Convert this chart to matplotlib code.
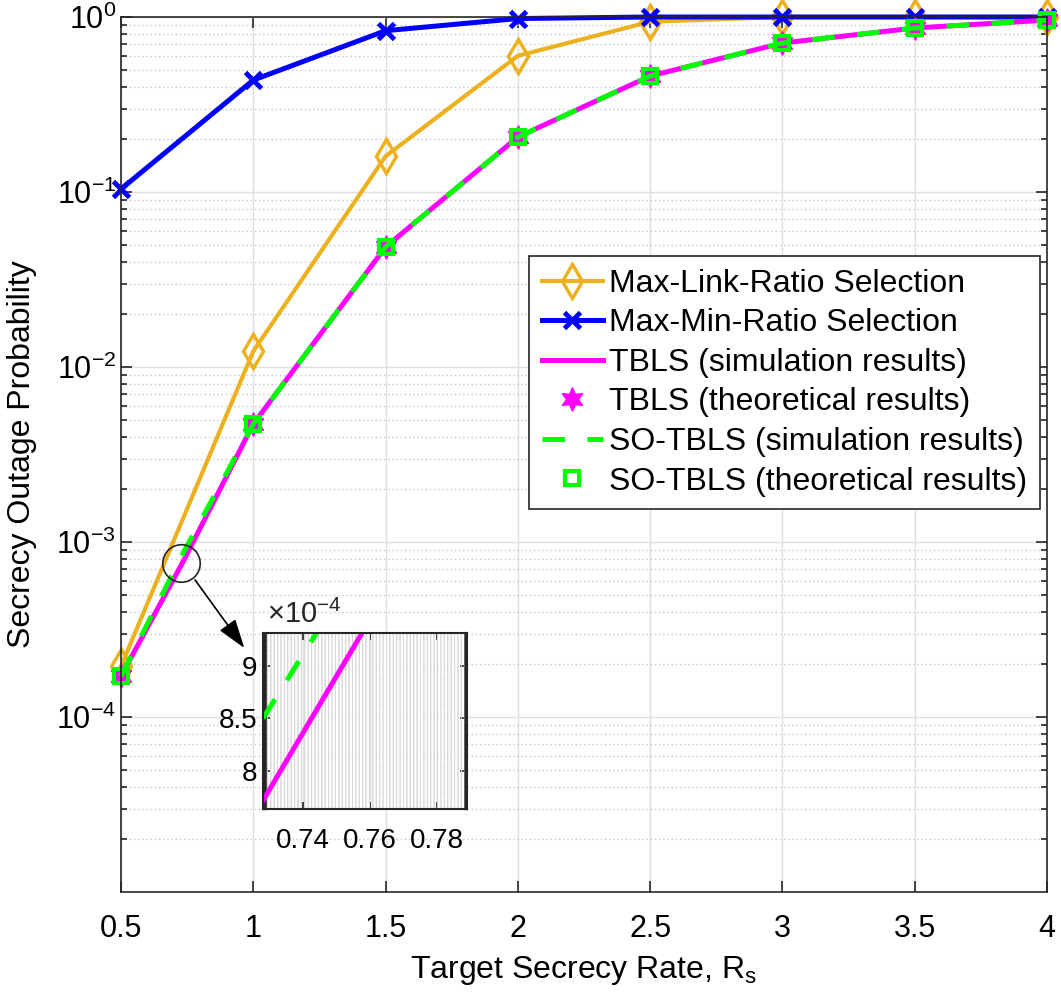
import numpy as np
import matplotlib.pyplot as plt
from matplotlib.ticker import LogLocator, FixedLocator, FuncFormatter, MultipleLocator, NullFormatter

plt.rcParams['font.family'] = ['Liberation Sans', 'DejaVu Sans']
plt.rcParams['mathtext.fontset'] = 'custom'
plt.rcParams['mathtext.rm'] = 'Liberation Sans'
plt.rcParams['mathtext.it'] = 'Liberation Sans:italic'

# values
rate = [0.5, 1, 1.5, 2, 2.5, 3, 3.5, 4]
max_link = [1.95e-4, 1.23e-2, 0.16, 0.60, 0.94, 1.0, 1.0, 1.0]
max_min = [0.104, 0.436, 0.835, 0.98, 1.0, 1.0, 1.0, 1.0]
tbls_theo = [1.71e-4, 4.72e-3, 0.0485, 0.206, 0.46, 0.71, 0.865, 0.96]
so_tbls_theo = [1.71e-4, 4.72e-3, 0.0485, 0.206, 0.46, 0.71, 0.865, 0.96]

# simulation curves have one more sample near the zoomed spot
sim_rate = [0.5, 0.74, 1, 1.5, 2, 2.5, 3, 3.5, 4]
tbls_sim = [1.71e-4, 8.0e-4, 4.72e-3, 0.0485, 0.206, 0.46, 0.71, 0.865, 0.96]
so_tbls_sim = [1.71e-4, 8.95e-4, 4.72e-3, 0.0485, 0.206, 0.46, 0.71, 0.865, 0.96]

# zoomed inset (linear axes)
zoom_x_tbls = [0.728, 0.7576]
zoom_y_tbls = [7.72e-4, 9.31e-4]
zoom_x_so = [0.728, 0.744]
zoom_y_so = [8.5e-4, 9.31e-4]

ORANGE = '#EDB120'
BLUE = '#0000FF'
MAGENTA = '#FF00FF'
GREEN = '#00FF00'
AXC = '#262626'

fig = plt.figure(figsize=(10.61, 9.96), dpi=100)
ax = fig.add_axes([121/1061, 1-892/996, 926/1061, 875/996])

ax.semilogy(rate, max_link, '-', color=ORANGE, lw=3, marker='d', ms=17,
            mfc='none', mec=ORANGE, mew=2.5, clip_on=False, label='Max-Link-Ratio Selection')
ax.semilogy(rate, max_min, '-', color=BLUE, lw=3.6, marker='x', ms=12,
            mew=3.5, clip_on=False, label='Max-Min-Ratio Selection')
ax.semilogy(sim_rate, tbls_sim, '-', color=MAGENTA, lw=3.6, clip_on=False,
            label='TBLS (simulation results)')
ax.semilogy(rate, tbls_theo, linestyle='none', marker=(6, 1, 0), ms=17, color=MAGENTA,
            clip_on=False, label='TBLS (theoretical results)')
ax.semilogy(sim_rate, so_tbls_sim, color=GREEN, lw=3.6, linestyle=(0, (4.5, 4.5)),
            clip_on=False, label='SO-TBLS (simulation results)')
ax.semilogy(rate, so_tbls_theo, linestyle='none', marker='s', ms=10, mfc='none',
            mec=GREEN, mew=3, clip_on=False, label='SO-TBLS (theoretical results)')

ax.set_xlim(0.5, 4)
ax.set_ylim(1e-5, 1)
ax.set_xticks(rate)
ax.set_xticklabels(['0.5', '1', '1.5', '2', '2.5', '3', '3.5', '4'])
ax.yaxis.set_major_locator(FixedLocator([1e-4, 1e-3, 1e-2, 1e-1, 1]))
ax.yaxis.set_minor_locator(LogLocator(base=10, subs=np.arange(2, 10)))
ax.yaxis.set_minor_formatter(NullFormatter())

ax.grid(True, which='major', color='#dfdfdf', lw=1, ls='-')
ax.grid(True, which='minor', axis='y', color='#c8c8c8', lw=1, ls=(0, (1, 2)))
ax.set_axisbelow(True)
ax.tick_params(which='both', direction='in', top=True, right=True, colors=AXC,
               labelsize=22, labelcolor='black')
ax.tick_params(which='major', length=8, width=1.2)
ax.tick_params(which='minor', length=4, width=1.2)
ax.tick_params(axis='x', pad=16)
for s in ax.spines.values():
    s.set_color(AXC)
    s.set_linewidth(1.2)

ax.set_xlabel('Target Secrecy Rate, R$_\\mathrm{s}$', fontsize=23, labelpad=7)
ax.set_ylabel('Secrecy Outage Probability', fontsize=23, labelpad=14)

leg = ax.legend(loc='upper right', bbox_to_anchor=(0.9924, 0.7269), borderaxespad=0,
                fontsize=23, fancybox=False, edgecolor=AXC, framealpha=1,
                handlelength=1.9, handletextpad=0.2, labelspacing=0.3,
                borderpad=0.4, numpoints=1)
leg.get_frame().set_linewidth(1.2)

# circle marking the zoomed spot and the arrow to the inset
ax.plot([0.727], [7.6e-4], 'o', ms=27, mfc='none', mec=AXC, mew=1.2)
ax.annotate('', xy=(0.966, 2.48e-4), xytext=(0.78, 6.07e-4),
            arrowprops=dict(arrowstyle='-|>,head_length=1.8,head_width=0.6',
                            color='black', lw=1.2, shrinkA=0, shrinkB=0))

# inset
ins = fig.add_axes([263/1061, 1-809/996, 204/1061, 176/996])
ins.plot(zoom_x_tbls, zoom_y_tbls, '-', color=MAGENTA, lw=3.6)
ins.plot(zoom_x_so, zoom_y_so, color=GREEN, lw=3.6, linestyle=(0, (4.5, 4.5)))
ins.set_xlim(0.728, 0.789)
ins.set_ylim(7.64e-4, 9.31e-4)
ins.set_xticks([0.74, 0.76, 0.78])
ins.set_yticks([8e-4, 8.5e-4, 9e-4])
ins.yaxis.set_major_formatter(FuncFormatter(lambda v, p: f'{v*1e4:g}'))
ins.yaxis.set_minor_locator(MultipleLocator(5e-7))
ins.grid(True, which='major', axis='x', color='#dfdfdf', lw=1, ls='-')
ins.grid(True, which='both', axis='y', color='#d6d6d6', lw=0.7, ls=(0, (1, 2.5)))
ins.set_axisbelow(True)
ins.tick_params(which='both', direction='in', top=True, right=True, colors=AXC,
                labelsize=20, labelcolor='black')
ins.tick_params(which='major', length=5, width=1.2)
ins.tick_params(which='minor', length=2.5, width=1)
ins.tick_params(axis='x', pad=14)
ins.tick_params(axis='y', pad=4)
for s in ins.spines.values():
    s.set_color(AXC)
    s.set_linewidth(1.5)
ins.text(0.02, 1.02, '×10$^{-4}$', transform=ins.transAxes, fontsize=21,
         color=AXC, ha='left', va='bottom')

fig.savefig('out.png', dpi=100)
